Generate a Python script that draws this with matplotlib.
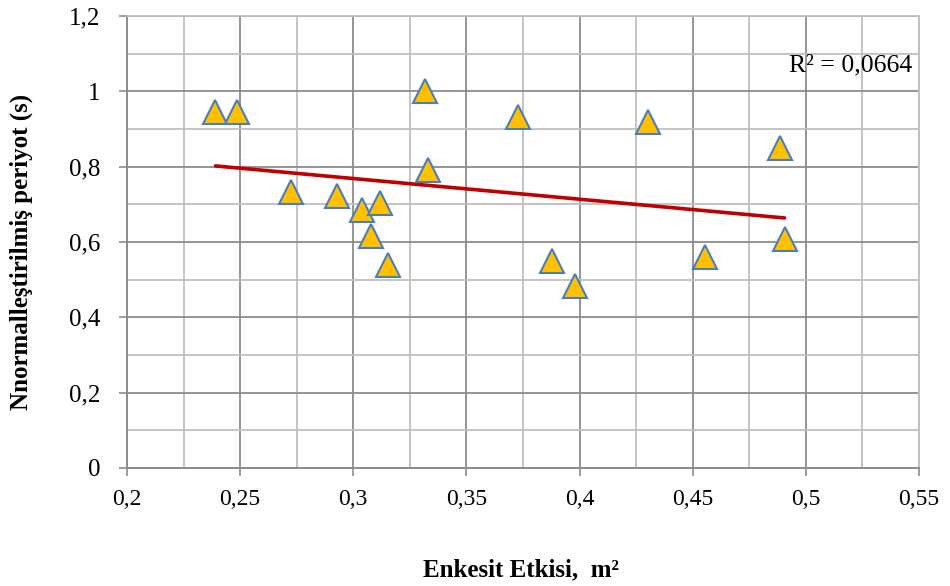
import numpy as np
import matplotlib
matplotlib.use("Agg")
import matplotlib.pyplot as plt
from matplotlib.ticker import MultipleLocator, FuncFormatter

# Cross-section effect (m²) and normalised period (s)
enkesit = [0.2391, 0.2485, 0.3315, 0.3328, 0.3726, 0.4302, 0.4886,
           0.2725, 0.2927, 0.3037, 0.3116, 0.3078, 0.3155,
           0.3878, 0.3982, 0.4554, 0.4906]
periyot = [0.945, 0.945, 1.001, 0.791, 0.933, 0.919, 0.850,
           0.733, 0.722, 0.685, 0.7035, 0.616, 0.539,
           0.550, 0.482, 0.559, 0.608]
r2_label = "R² = 0,0664"

plt.rcParams['font.family'] = ['Liberation Serif', 'DejaVu Serif']

fig = plt.figure(figsize=(9.5, 5.86), dpi=100)
ax = fig.add_axes([127/950, 1-468/586, 792/950, 452/586])

x = np.array(enkesit)
y = np.array(periyot)

# grid
ax.set_xlim(0.2, 0.55)
ax.set_ylim(0, 1.2)
ax.xaxis.set_major_locator(MultipleLocator(0.05))
ax.xaxis.set_minor_locator(MultipleLocator(0.025))
ax.yaxis.set_major_locator(MultipleLocator(0.2))
ax.yaxis.set_minor_locator(MultipleLocator(0.1))
ax.grid(which='major', color='#8c8c8c', linewidth=1.3, zorder=0)
ax.grid(which='minor', color='#bfbfbf', linewidth=1.3, zorder=0)
ax.set_axisbelow(True)

comma = FuncFormatter(lambda v, p: ('%g' % round(v, 3)).replace('.', ','))
ax.xaxis.set_major_formatter(comma)
ax.yaxis.set_major_formatter(comma)

ax.tick_params(which='major', length=6, width=1.2, color='#8c8c8c',
               direction='out')
ax.tick_params(axis='x', which='major', pad=9, labelsize=17)
ax.tick_params(axis='y', which='major', pad=13, labelsize=18)
ax.tick_params(which='minor', length=0)

for side in ['left', 'bottom']:
    ax.spines[side].set_color('#8c8c8c')
    ax.spines[side].set_linewidth(1.4)
for side in ['top', 'right']:
    ax.spines[side].set_color('#bfbfbf')
    ax.spines[side].set_linewidth(1.3)

# linear trend line across the data range
k, b = np.polyfit(x, y, 1)
xt = np.array([x.min(), x.max()])
ax.plot(xt, k * xt + b, color='#C00000', linewidth=2.6,
        solid_capstyle='round', zorder=2)

ax.plot(x, y, linestyle='none', marker='^', markersize=17,
        markerfacecolor='#FFC000', markeredgecolor='#4A7EBB',
        markeredgewidth=1.5, zorder=3, clip_on=False)

ax.text(0.992, 0.8916, r2_label, transform=ax.transAxes,
        ha='right', va='center', fontsize=18.5)

fig.text(521/950, 1-570/586, 'Enkesit Etkisi,  m²', ha='center',
         va='center', fontsize=18, fontweight='bold')
fig.text(21/950, 1-252/586, 'Nnormalleştirilmiş periyot (s)', ha='center',
         va='center', rotation=90, fontsize=18, fontweight='bold')

fig.savefig('out.png', dpi=100)
